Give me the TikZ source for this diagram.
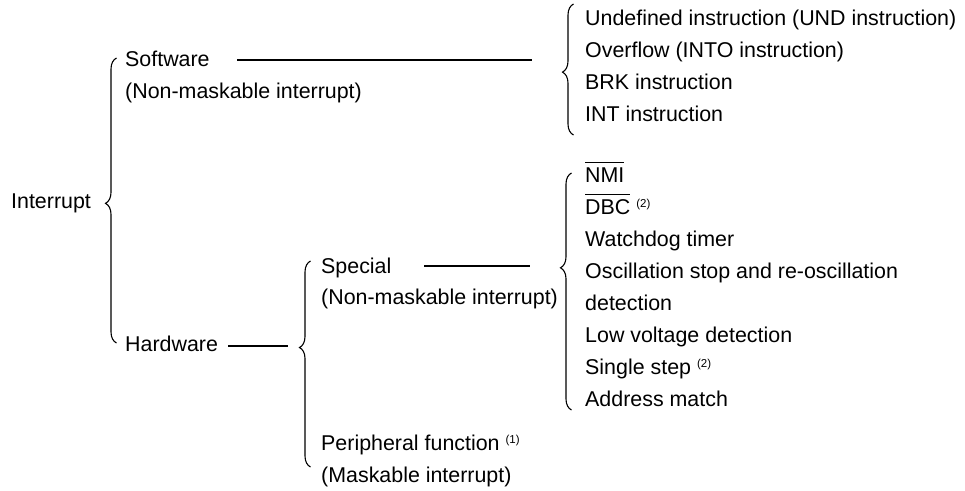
\documentclass[tikz,border=0pt]{standalone}
\usepackage{fontspec}
\setmainfont{Liberation Sans}
\usetikzlibrary{decorations.pathreplacing}

% active-low signal name with a bar over it
\newcommand\barred[1]{\setbox0\hbox{#1}\rlap{\rule[\dimexpr\ht0+4.5pt\relax]{\wd0}{0.9pt}}\box0\relax}
% small parenthesised note mark
\newcommand\notemark[1]{\raisebox{6.5pt}{\fontsize{11.5}{13}\selectfont(#1)}}

\begin{document}
\begin{tikzpicture}[x=1pt,y=-1pt,
  lbl/.style={anchor=base west, inner sep=0pt, font=\fontsize{21.4}{25}\selectfont},
  link/.style={line width=1.4pt},
  curly/.style={decorate, decoration={brace, amplitude=11pt, aspect=#1}, line width=1.1pt}]
\useasboundingbox (0,0) rectangle (965,490);

% root
\node[lbl] (intr) at (11,208) {Interrupt};

% first level
\node[lbl] (sw)   at (125,66)  {Software};
\node[lbl] (swn)  at (125,98)  {(Non-maskable interrupt)};
\node[lbl] (hw)   at (125,351) {Hardware};

% hardware branches
\node[lbl] (sp)   at (321,273) {Special};
\node[lbl] (spn)  at (321,304) {(Non-maskable interrupt)};
\node[lbl] (per)  at (321,450) {Peripheral function \notemark{1}};
\node[lbl] (pern) at (321,482) {(Maskable interrupt)};

% software interrupt sources
\node[lbl] (s1) at (585,25)  {Undefined instruction (UND instruction)};
\node[lbl] (s2) at (585,57)  {Overflow (INTO instruction)};
\node[lbl] (s3) at (585,89)  {BRK instruction};
\node[lbl] (s4) at (585,121) {INT instruction};

% special interrupt sources
\node[lbl] (h1) at (585,182) {\barred{NMI}};
\node[lbl] (h2) at (585,214) {\barred{DBC} \notemark{2}};
\node[lbl] (h3) at (585,246) {Watchdog timer};
\node[lbl] (h4) at (585,278) {Oscillation stop and re-oscillation};
\node[lbl] (h5) at (585,310) {detection};
\node[lbl] (h6) at (585,342) {Low voltage detection};
\node[lbl] (h7) at (585,374) {Single step \notemark{2}};
\node[lbl] (h8) at (585,406) {Address match};

% brace end points
\coordinate (b1t) at (116.5,58);  \coordinate (b1b) at (116.5,343);
\coordinate (b2t) at (310.5,261); \coordinate (b2b) at (310.5,467);
\coordinate (b3t) at (573.5,4);   \coordinate (b3b) at (573.5,135);
\coordinate (b4t) at (571.5,173); \coordinate (b4b) at (571.5,410);

\draw[curly=0.49] (b1b) -- (b1t);
\draw[curly=0.58] (b2b) -- (b2t);
\draw[curly=0.48] (b3b) -- (b3t);
\draw[curly=0.60] (b4b) -- (b4t);

% connecting rules
\coordinate (swA) at (237,60);  \coordinate (swB) at (532,60);
\coordinate (hwA) at (228,346); \coordinate (hwB) at (288,346);
\coordinate (spA) at (424,266); \coordinate (spB) at (530,266);
\draw[link] (swA) -- (swB);
\draw[link] (hwA) -- (hwB);
\draw[link] (spA) -- (spB);
\end{tikzpicture}
\end{document}
